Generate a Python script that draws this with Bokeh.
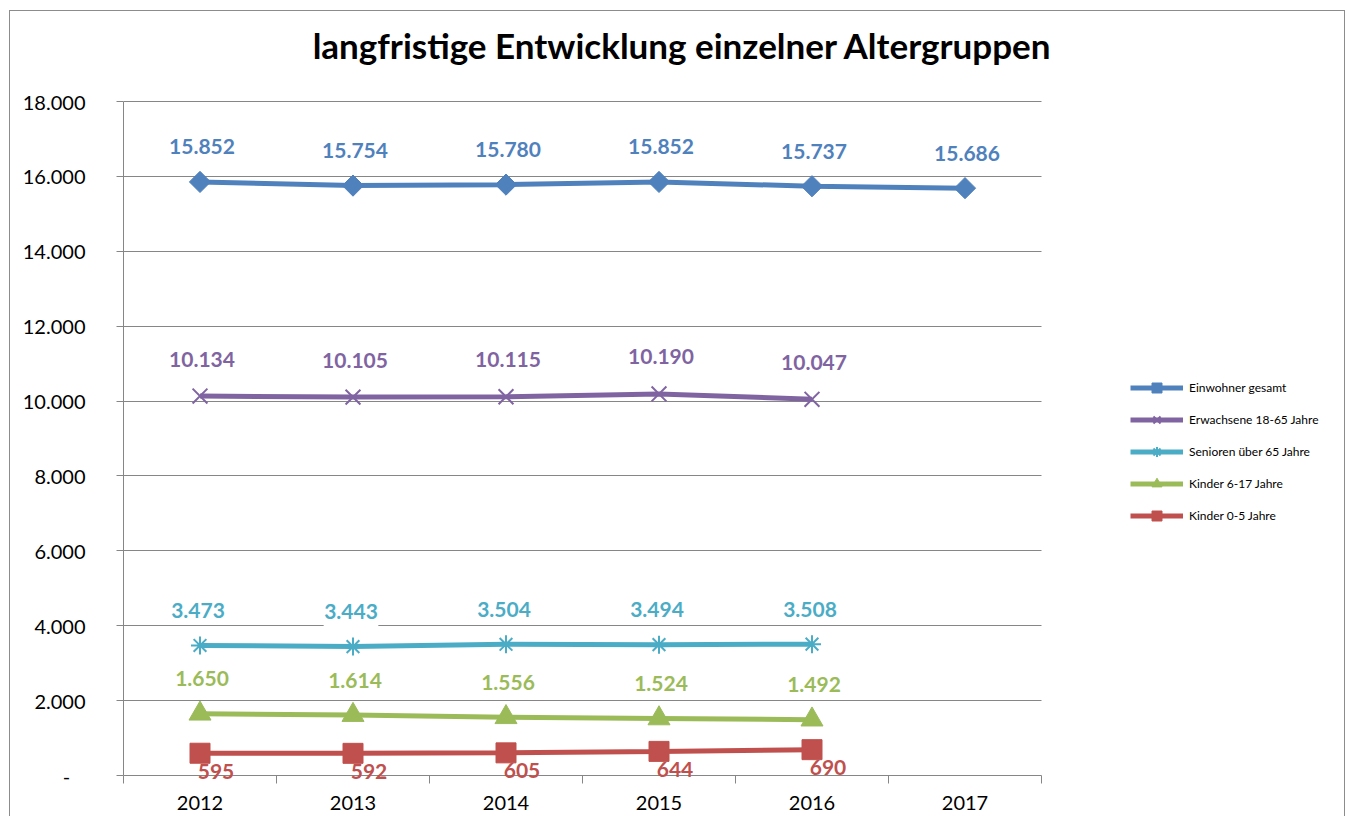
import numpy as np
from bokeh.plotting import figure
from bokeh.models import (Range1d, FixedTicker, ColumnDataSource, LabelSet, Label,
                          Legend, LegendItem)
from bokeh.embed import file_html
from bokeh.resources import INLINE
from bokeh.core.properties import value

# ---------------- data ----------------
years = ["2012", "2013", "2014", "2015", "2016", "2017"]
einwohner_gesamt = [15852, 15754, 15780, 15852, 15737, 15686]
erwachsene_18_65 = [10134, 10105, 10115, 10190, 10047]
senioren_65 = [3473, 3443, 3504, 3494, 3508]
kinder_6_17 = [1650, 1614, 1556, 1524, 1492]
kinder_0_5 = [595, 592, 605, 644, 690]

series_names = ["Einwohner gesamt", "Erwachsene 18-65 Jahre", "Senioren über 65 Jahre",
                "Kinder 6-17 Jahre", "Kinder 0-5 Jahre"]
y_ticks = [0, 2000, 4000, 6000, 8000, 10000, 12000, 14000, 16000, 18000]
y_tick_labels = ["-\u00a0\u00a0\u00a0", "2.000", "4.000", "6.000", "8.000", "10.000",
                 "12.000", "14.000", "16.000", "18.000"]
title_text = "langfristige Entwicklung einzelner Altergruppen"

# ---------------- layout (pixels) ----------------
FONT = "Lato"
GRID = "#868686"
CANVAS_W, CANVAS_H = 1336, 806
BORDER_LEFT, BORDER_BOTTOM = 113, 34
PX_PER_CAT = 153.0
PLOT_H_PX = 674.0          # pixel height of the value axis (0 .. 18000)
TICK_BELOW = 8.0           # category tick marks below the zero line

frame_w = CANVAS_W - BORDER_LEFT
frame_h = CANVAS_H - BORDER_BOTTOM
px_per_val = PLOT_H_PX / (y_ticks[-1] - y_ticks[0])
x_end = frame_w / PX_PER_CAT
y_start = y_ticks[0] - TICK_BELOW / px_per_val
y_end = y_start + frame_h / px_per_val


def de(v):
    return f"{v:,}".replace(",", ".")


centers = [i + 0.5 for i in range(len(years))]
bounds = [float(i) for i in range(len(years) + 1)]

p = figure(width=CANVAS_W, height=CANVAS_H, x_range=Range1d(0, x_end),
           y_range=Range1d(y_start, y_end), title=None,
           output_backend="svg", toolbar_location=None,
           min_border_left=BORDER_LEFT, min_border_right=0,
           min_border_top=0, min_border_bottom=BORDER_BOTTOM)
p.styles = {"margin-left": "9px", "margin-top": "10px",
            "border-top": "1px solid #8c8c8c", "border-left": "1px solid #8c8c8c",
            "border-right": "1px solid #8c8c8c"}
p.outline_line_color = None
p.background_fill_color = "white"
p.border_fill_color = "white"

# value axis
p.yaxis.ticker = FixedTicker(ticks=y_ticks)
p.yaxis.bounds = (y_ticks[0], y_ticks[-1])
p.yaxis.major_label_overrides = {t: l for t, l in zip(y_ticks, y_tick_labels)}
p.yaxis.major_tick_in = 0
p.yaxis.major_tick_out = 7
p.yaxis.minor_tick_line_color = None
p.yaxis.axis_line_color = GRID
p.yaxis.major_tick_line_color = GRID
p.yaxis.major_label_standoff = 31
p.yaxis.major_label_text_font = FONT
p.yaxis.major_label_text_font_size = "20px"
p.yaxis.major_label_text_color = "black"

# category axis: labels at centres, tick marks at category boundaries
p.xaxis.ticker = FixedTicker(ticks=centers, minor_ticks=bounds)
p.xaxis.major_label_overrides = {c: y for c, y in zip(centers, years)}
p.xaxis.major_tick_line_color = None
p.xaxis.minor_tick_line_color = GRID
p.xaxis.minor_tick_in = int(TICK_BELOW)
p.xaxis.minor_tick_out = 0
p.xaxis.axis_line_color = None
p.xaxis.major_label_standoff = 6
p.xaxis.major_label_text_font = FONT
p.xaxis.major_label_text_font_size = "20px"
p.xaxis.major_label_text_color = "black"

p.xgrid.visible = False
p.ygrid.ticker = FixedTicker(ticks=y_ticks)
p.ygrid.bounds = (y_ticks[0], y_ticks[-1])
p.ygrid.cross_bounds = (0, len(years))
p.ygrid.grid_line_color = GRID
p.ygrid.grid_line_width = 1

series = [
    dict(vals=einwohner_gesamt, color="#4F81BD", marker="square", size=15, angle=np.pi / 4,
         lw=5, fill=True, mlw=1, dy=35, dx=2, bg=None),
    dict(vals=erwachsene_18_65, color="#8064A2", marker="x", size=21, angle=0.0,
         lw=5, fill=False, mlw=2, dy=37, dx=2, bg=None),
    dict(vals=senioren_65, color="#4BACC6", marker="asterisk", size=18, angle=0.0,
         lw=5, fill=False, mlw=2, dy=35, dx=-2, bg="white"),
    dict(vals=kinder_6_17, color="#9BBB59", marker="triangle", size=22, angle=0.0,
         lw=5, fill=True, mlw=1, dy=35, dx=2, bg=None),
    dict(vals=kinder_0_5, color="#C0504D", marker="square", size=20, angle=0.0,
         lw=5, fill=True, mlw=1, dy=-18, dx=16, bg=None),
]

items = []
for name, s in zip(series_names, series):
    n = len(s["vals"])
    src = ColumnDataSource(dict(x=centers[:n], y=s["vals"], t=[de(v) for v in s["vals"]]))
    rl = p.line("x", "y", source=src, line_width=s["lw"], line_color=s["color"])
    rm = p.scatter("x", "y", source=src, marker=s["marker"], size=s["size"], angle=s["angle"],
                   line_color=s["color"], line_width=s["mlw"],
                   fill_color=s["color"] if s["fill"] else None)
    items.append(LegendItem(label=name, renderers=[rl, rm]))
    ls = LabelSet(x="x", y="y", text="t", source=src, x_offset=s["dx"], y_offset=s["dy"],
                  text_font=value(FONT), text_font_style="bold", text_font_size="21px",
                  text_color=s["color"], text_align="center", text_baseline="middle")
    if s["bg"]:
        ls.background_fill_color = s["bg"]
        ls.border_line_color = s["bg"]
        ls.border_line_width = 14
    p.add_layout(ls)

legend = Legend(items=items, location=(1007, 255), orientation="vertical")
legend.margin = 0
legend.padding = 0
legend.spacing = 7
legend.glyph_width = 53
legend.glyph_height = 25
legend.label_height = 25
legend.label_standoff = 6
legend.label_text_font = FONT
legend.label_text_font_size = "12px"
legend.label_text_color = "black"
legend.background_fill_alpha = 0
legend.border_line_color = None
p.add_layout(legend)

title = Label(x=559, y=739, x_units="screen", y_units="screen", text=title_text,
              text_font=FONT, text_font_style="bold", text_font_size="35px",
              text_align="center", text_baseline="alphabetic", text_color="black")
p.add_layout(title)

open("out.html", "w").write(file_html(p, INLINE))
